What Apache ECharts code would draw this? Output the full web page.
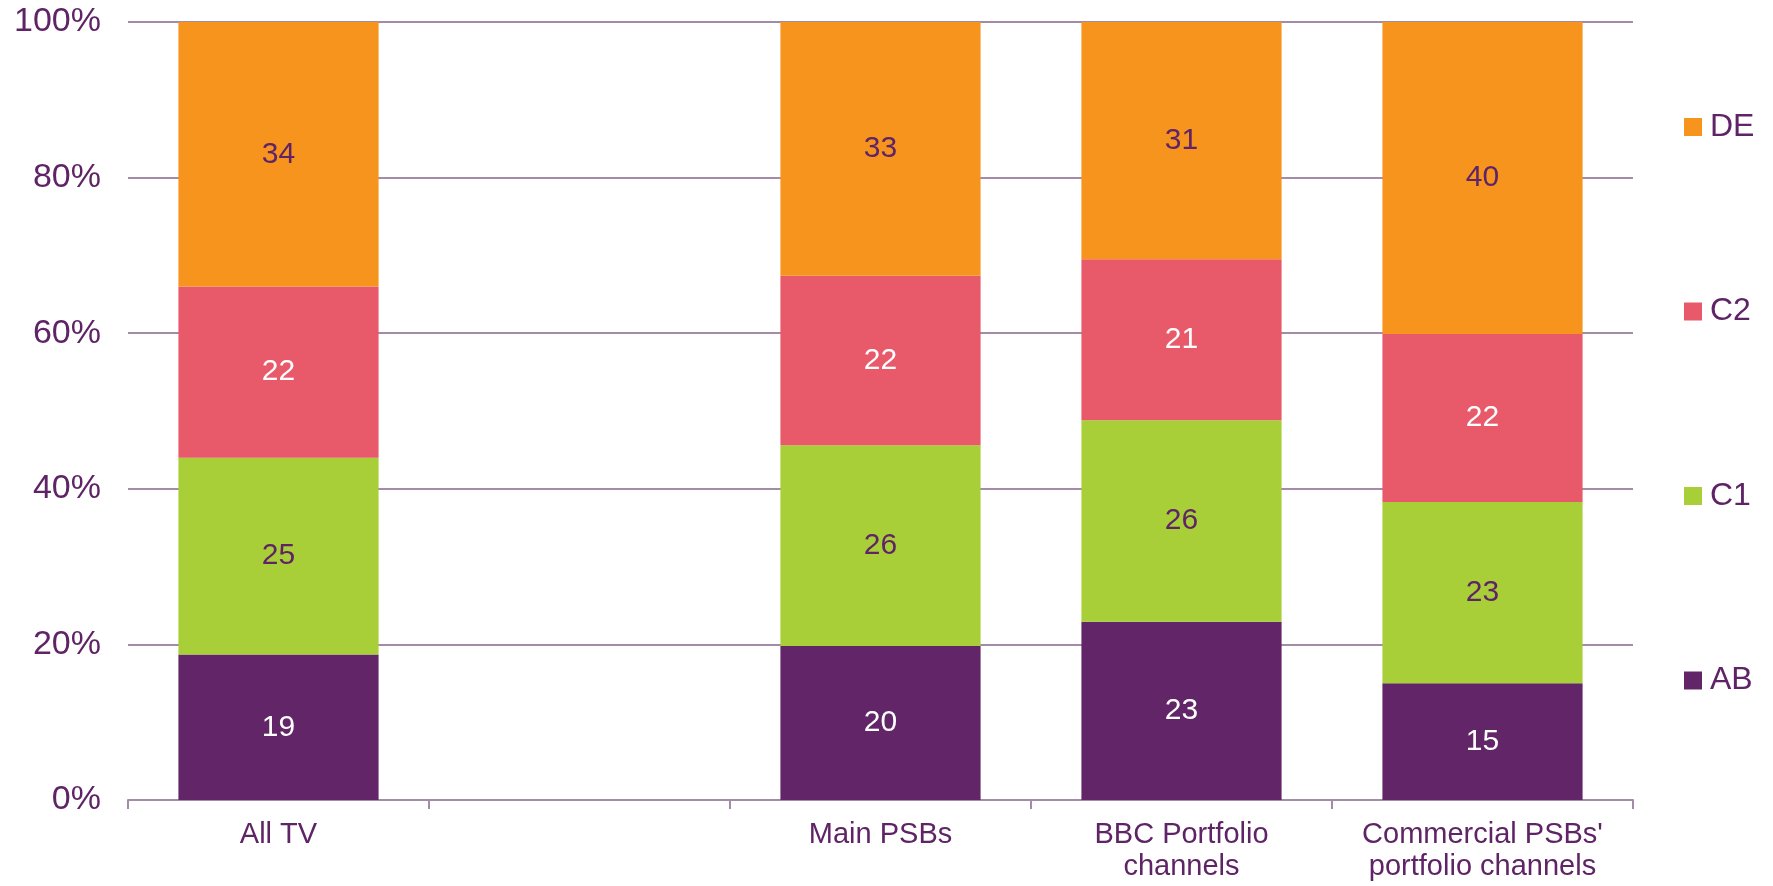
<!DOCTYPE html>
<html>
<head>
<meta charset="utf-8">
<script src="https://cdn.jsdelivr.net/npm/echarts@6/dist/echarts.min.js"></script>
<style>
html,body{margin:0;padding:0;background:#fff;}
#chart{width:1773px;height:886px;}
</style>
</head>
<body>
<div id="chart"></div>
<script>
const categories = ['All TV', '', 'Main PSBs', 'BBC Portfolio\nchannels', "Commercial PSBs'\nportfolio channels"];
const seriesNames = ['AB', 'C1', 'C2', 'DE'];
const AB = [18.7, null, 19.8, 22.9, 15.0];
const C1 = [25.3, null, 25.8, 25.9, 23.3];
const C2 = [22.0, null, 21.8, 20.7, 21.6];
const DE = [34.0, null, 32.6, 30.5, 40.1];
const yTicks = [0, 20, 40, 60, 80, 100];

const purple = '#5F2466';
const colors = ['#622567', '#A8CF38', '#E8596A', '#F7941E'];
const labelColors = ['#ffffff', purple, '#ffffff', purple];
const values = [AB, C1, C2, DE];
const font = '"Liberation Sans", Arial, sans-serif';

const chart = echarts.init(document.getElementById('chart'));
chart.setOption({
  animation: false,
  color: colors,
  textStyle: { fontFamily: font },
  grid: { left: 128, right: 140, top: 22, bottom: 86, containLabel: false },
  legend: {
    orient: 'vertical',
    left: 1684,
    top: 111,
    padding: 0,
    itemGap: 152.5,
    itemWidth: 18,
    itemHeight: 18,
    icon: 'rect',
    data: seriesNames.slice().reverse(),
    textStyle: { color: purple, fontSize: 32, lineHeight: 32, fontFamily: font, padding: [0, 0, 0, 3] }
  },
  xAxis: {
    type: 'category',
    data: categories,
    axisLine: { lineStyle: { color: '#A48CA8', width: 2 } },
    axisTick: { show: true, length: 9, lineStyle: { color: '#A48CA8', width: 2 } },
    axisLabel: { color: purple, fontSize: 29, lineHeight: 32, margin: 19, fontFamily: font, interval: 0 }
  },
  yAxis: {
    type: 'value',
    min: yTicks[0],
    max: yTicks[yTicks.length - 1],
    interval: 20,
    axisLine: { show: false },
    axisTick: { show: false },
    splitLine: { lineStyle: { color: '#A48CA8', width: 2 } },
    axisLabel: { color: purple, fontSize: 34, margin: 27, fontFamily: font, formatter: v => v + '%' }
  },
  series: seriesNames.map((name, i) => ({
    name: name,
    type: 'bar',
    stack: 'total',
    barWidth: '66.5%',
    data: values[i],
    itemStyle: { color: colors[i] },
    label: {
      show: true,
      position: 'inside',
      color: labelColors[i],
      fontSize: 30,
      fontFamily: font,
      formatter: p => p.value == null ? '' : Math.round(p.value)
    }
  }))
});
</script>
</body>
</html>
